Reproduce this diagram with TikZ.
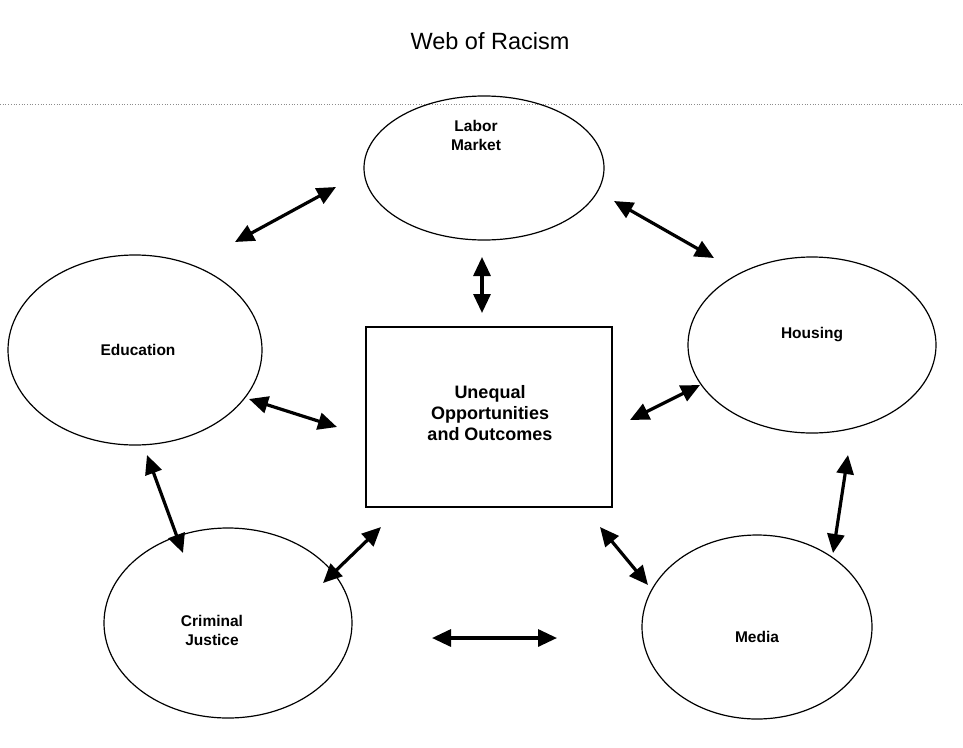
\documentclass[tikz,border=0pt]{standalone}
\usepackage{fontspec}
\setmainfont{Liberation Sans}
\usetikzlibrary{arrows.meta,shapes.geometric}
\begin{document}
\begin{tikzpicture}[x=1pt,y=-1pt,
  sphere/.style={draw, ellipse, line width=1.2pt, inner sep=0pt},
  centrebox/.style={draw, rectangle, line width=1.3pt, inner sep=0pt},
  tag/.style={font=\bfseries\fontsize{15.5}{19}\selectfont, align=center, inner sep=0pt},
  link/.style={line width=3.2pt, {Triangle[length=19pt,width=17pt]}-{Triangle[length=19pt,width=17pt]}},
  rule/.style={dotted, line width=0.7pt, black!45}]
\useasboundingbox (0,0) rectangle (963,747);

% title and rule
\node (title) at (490,41) {\fontsize{23.5}{28}\selectfont Web of Racism};
\coordinate (ruleL) at (0,104);
\coordinate (ruleR) at (963,104);
\draw[rule] (ruleL) -- (ruleR);

% institutions
\node[sphere, minimum width=240pt, minimum height=144pt] (labor) at (484,168) {};
\node[sphere, minimum width=254pt, minimum height=190pt] (educ) at (135,350) {};
\node[sphere, minimum width=248pt, minimum height=176pt] (housing) at (812,345) {};
\node[sphere, minimum width=248pt, minimum height=190pt] (justice) at (228,623) {};
\node[sphere, minimum width=230pt, minimum height=184pt] (media) at (757,627) {};
\node[centrebox, minimum width=246pt, minimum height=180pt] (core) at (489,417) {};

\node[tag] (laborT) at (476,135) {Labor\\Market};
\node[tag] (educT) at (138,350) {Education};
\node[tag] (housingT) at (812,335) {Housing};
\node[tag] (justiceT) at (212,630) {Criminal\\Justice};
\node[tag] (mediaT) at (757,637) {Media};
\node[tag, font=\bfseries\fontsize{18}{21}\selectfont] (coreT) at (490,413) {Unequal\\Opportunities\\and Outcomes};

% arrow ends
\coordinate (a1s) at (235,242); \coordinate (a1e) at (336,187);
\coordinate (a2s) at (614,201); \coordinate (a2e) at (714,258);
\coordinate (a3s) at (482,257); \coordinate (a3e) at (482,313);
\coordinate (a4s) at (249,399); \coordinate (a4e) at (337,427);
\coordinate (a5s) at (630,420); \coordinate (a5e) at (700,385);
\coordinate (a6s) at (848,455); \coordinate (a6e) at (833,553);
\coordinate (a7s) at (147,455); \coordinate (a7e) at (183,553);
\coordinate (a8s) at (381,527); \coordinate (a8e) at (323,583);
\coordinate (a9s) at (600,527); \coordinate (a9e) at (648,585);
\coordinate (a10s) at (432,638); \coordinate (a10e) at (557,638);

\foreach \k in {1,...,10} \draw[link] (a\k s) -- (a\k e);
\end{tikzpicture}
\end{document}
